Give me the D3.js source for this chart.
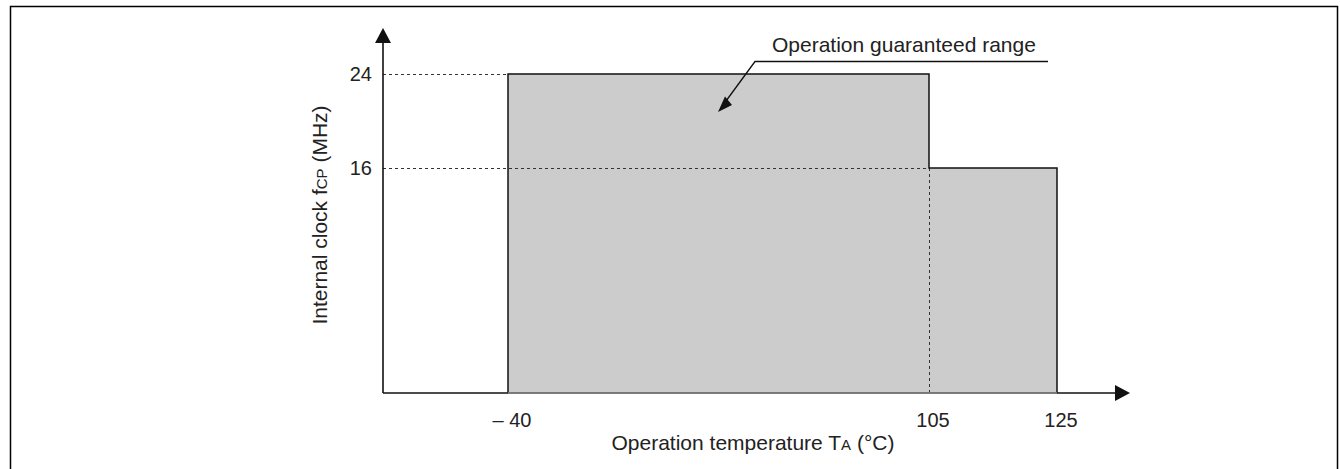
<!DOCTYPE html>
<html>
<head>
<meta charset="utf-8">
<script src="https://cdn.jsdelivr.net/npm/d3@7"></script>
<style>
  html, body { margin: 0; padding: 0; background: #fff; }
  svg { display: block; font-family: Arial, "Liberation Sans", sans-serif; }
</style>
</head>
<body>
<svg id="chart" width="1340" height="469"></svg>
<script>
// operating range, schematic (axes are not to scale)
var tempTicks = [-40, 105, 125];
var clockTicks = [16, 24];
var segStart = [-40, 105];
var segEnd = [105, 125];
var segClock = [24, 16];
var areaLabel = "Operation guaranteed range";

var svg = d3.select("#chart"),
    axisLeft = 383,
    axisRight = 1130,
    axisTop = 28,
    axisBottom = 393;

// piecewise scales, the reference draws the ticks at uneven spacing
var x = d3.scaleLinear().domain(tempTicks).range([508, 929, 1057]);
var y = d3.scaleLinear().domain([0, 16, 24]).range([axisBottom, 168, 74]);

// outer frame
svg.append("rect")
    .attr("x", 10.5).attr("y", 6.5)
    .attr("width", 1327).attr("height", 480)
    .attr("fill", "none")
    .attr("stroke", "#000")
    .attr("stroke-width", 1.5);

// step outline of the guaranteed area
var pts = [[x(segStart[0]), y(0)]];
segStart.forEach(function (t, i) {
    pts.push([x(t), y(segClock[i])]);
    pts.push([x(segEnd[i]), y(segClock[i])]);
});
pts.push([x(segEnd[segEnd.length - 1]), y(0)]);

svg.append("path")
    .attr("d", d3.line()(pts) + "Z")
    .attr("fill", "#cccccc")
    .attr("stroke", "none");

// dashed guides
var dash = svg.append("g")
    .attr("stroke", "#333")
    .attr("stroke-width", 1)
    .attr("stroke-dasharray", "3,3")
    .attr("fill", "none");

clockTicks.forEach(function (f) {
    // run the guide to where that clock level ends
    var i = segClock.indexOf(f);
    var xEnd = f === segClock[0] ? x(segStart[0]) : x(segStart[i]);
    dash.append("line")
        .attr("x1", axisLeft).attr("x2", xEnd)
        .attr("y1", Math.round(y(f)) + 0.5).attr("y2", Math.round(y(f)) + 0.5);
});
dash.append("line")
    .attr("x1", x(segEnd[0]) + 0.5).attr("x2", x(segEnd[0]) + 0.5)
    .attr("y1", y(segClock[1])).attr("y2", axisBottom);

svg.append("path")
    .attr("d", d3.line()(pts))
    .attr("fill", "none")
    .attr("stroke", "#111")
    .attr("stroke-width", 1.5);

// axes with arrow heads
svg.append("line")
    .attr("x1", axisLeft).attr("x2", axisRight - 12)
    .attr("y1", axisBottom).attr("y2", axisBottom)
    .attr("stroke", "#111").attr("stroke-width", 1.6);
svg.append("line")
    .attr("x1", x(segStart[0])).attr("x2", x(segEnd[1]))
    .attr("y1", axisBottom).attr("y2", axisBottom)
    .attr("stroke", "#8c8c8c").attr("stroke-width", 1.6);
svg.append("line")
    .attr("x1", axisLeft).attr("x2", axisLeft)
    .attr("y1", axisBottom).attr("y2", axisTop + 12)
    .attr("stroke", "#111").attr("stroke-width", 1.6);

svg.append("path")
    .attr("d", "M" + axisRight + "," + axisBottom + "l-15,-8v16Z")
    .attr("fill", "#111");
svg.append("path")
    .attr("d", "M" + axisLeft + "," + axisTop + "l-8,15h16Z")
    .attr("fill", "#111");

// tick labels
svg.selectAll(".ytick")
    .data(clockTicks)
    .enter().append("text")
    .attr("class", "ytick")
    .attr("x", axisLeft - 11)
    .attr("y", function (d) { return y(d); })
    .attr("dy", "0.35em")
    .attr("text-anchor", "end")
    .attr("font-size", 20)
    .attr("fill", "#222")
    .text(function (d) { return d; });

svg.selectAll(".xtick")
    .data(tempTicks)
    .enter().append("text")
    .attr("class", "xtick")
    .attr("x", function (d) { return x(d) + 4; })
    .attr("y", 427)
    .attr("text-anchor", "middle")
    .attr("font-size", 20)
    .attr("fill", "#222")
    .text(function (d) { return d < 0 ? "\u2013 " + Math.abs(d) : d; });

// axis titles
var xt = svg.append("text")
    .attr("x", 753).attr("y", 450)
    .attr("text-anchor", "middle")
    .attr("font-size", 21)
    .attr("fill", "#222");
xt.append("tspan").text("Operation temperature T");
xt.append("tspan").attr("font-size", 15).text("A");
xt.append("tspan").text(" (\u00b0C)");

var yt = svg.append("text")
    .attr("transform", "translate(327,215) rotate(-90)")
    .attr("text-anchor", "middle")
    .attr("font-size", 21)
    .attr("fill", "#222");
yt.append("tspan").text("Internal clock f");
yt.append("tspan").attr("font-size", 15).text("CP");
yt.append("tspan").text(" (MHz)");

// callout
svg.append("text")
    .attr("x", 772).attr("y", 52)
    .attr("font-size", 21)
    .attr("fill", "#222")
    .text(areaLabel);

svg.append("path")
    .attr("d", "M1048,61.5H755L726,101")
    .attr("fill", "none")
    .attr("stroke", "#111")
    .attr("stroke-width", 1.3);
svg.append("path")
    .attr("d", "M718,112L725,96.5L732,105Z")
    .attr("fill", "#111");
</script>
</body>
</html>
